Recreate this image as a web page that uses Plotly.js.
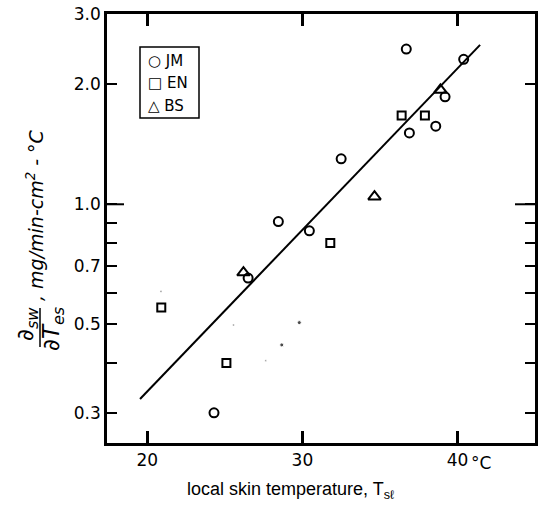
<!DOCTYPE html>
<html>
<head>
<meta charset="utf-8">
<script src="https://cdn.plot.ly/plotly-3.0.1.min.js"></script>
<style>html,body{margin:0;padding:0;background:#fff;}#chart{width:544px;height:507px;}</style>
</head>
<body>
<div id="chart"></div>
<script>
// Data
const jmX = [24.3, 26.5, 28.45, 30.45, 32.5, 36.7, 36.9, 38.6, 39.2, 40.4];
const jmY = [0.30, 0.653, 0.905, 0.858, 1.30, 2.45, 1.51, 1.57, 1.86, 2.31];
const enX = [20.9, 25.1, 31.8, 36.4, 37.9];
const enY = [0.551, 0.40, 0.80, 1.67, 1.67];
const bsX = [26.2, 34.65, 38.9];
const bsY = [0.674, 1.045, 1.935];
const fitX = [19.53, 41.46];
const fitY = [0.325, 2.51];
const speckX = [29.8, 28.67, 25.55, 27.64, 20.88];
const speckY = [0.505, 0.444, 0.498, 0.405, 0.604];
const speckSize = [4, 4, 2, 2, 2];

const xTickVals = [20, 30, 40];
const xTickText = ['20', '30', '40'];
const yTickVals = [0.3, 0.4, 0.5, 0.6, 0.7, 0.8, 0.9, 1, 2, 3];
const yTickText = ['0.3', ' ', '0.5', ' ', '0.7', ' ', ' ', '1.0', '2.0', '3.0'];
const legendNames = ['JM', 'EN', 'BS'];
const legendGlyphs = ['\u25CB', '\u25A1', '\u25B3'];

const yRange = [Math.log10(0.252), Math.log10(3)];
const F = 'DejaVu Sans, sans-serif';

const traces = [
  {x: fitX, y: fitY, mode: 'lines', line: {color: 'black', width: 2}, showlegend: false, hoverinfo: 'skip'},
  {x: jmX, y: jmY, mode: 'markers', name: 'JM', marker: {symbol: 'circle-open', size: 9, color: 'black', line: {width: 2, color: 'black'}}},
  {x: enX, y: enY, mode: 'markers', name: 'EN', marker: {symbol: 'square-open', size: 8, color: 'black', line: {width: 2, color: 'black'}}},
  {x: bsX, y: bsY, mode: 'markers', name: 'BS', marker: {symbol: 'triangle-up-open', size: 11, color: 'black', line: {width: 2, color: 'black'}}},
  {x: speckX, y: speckY, mode: 'markers', marker: {symbol: 'circle', size: speckSize, color: 'black'}, showlegend: false, hoverinfo: 'skip'}
];

// pixel -> paper helpers for decorations
const L = 107, R = 535, T = 14, B = 443;
const px = v => (v - L) / (R - L);
const py = v => (B - v) / (B - T);

const annotations = [
  {text: '<i>, mg/min-cm<sup>2</sup> - °C</i>', textangle: -90, xref: 'paper', yref: 'paper', x: px(35), y: py(215), xanchor: 'center', yanchor: 'middle', showarrow: false, font: {family: F, size: 19, color: 'black'}},
  {text: '<i>∂<sub>sw</sub></i>', textangle: -90, xref: 'paper', yref: 'paper', x: px(27), y: py(324), xanchor: 'center', yanchor: 'middle', showarrow: false, font: {family: F, size: 23, color: 'black'}},
  {text: '<i>∂T<sub>es</sub></i>', textangle: -90, xref: 'paper', yref: 'paper', x: px(53), y: py(329), xanchor: 'center', yanchor: 'middle', showarrow: false, font: {family: F, size: 23, color: 'black'}},
  {text: '°C', xref: 'paper', yref: 'paper', x: px(481), y: py(463), xanchor: 'center', yanchor: 'middle', showarrow: false, font: {family: F, size: 17, color: 'black'}},
  {text: 'local skin temperature, T<sub>sℓ</sub>', xref: 'paper', yref: 'paper', x: px(290), y: py(490), xanchor: 'center', yanchor: 'middle', showarrow: false, font: {family: 'Liberation Sans, Arial, sans-serif', size: 18, color: 'black'}}
];
const legendY = [61, 83, 106];
legendNames.forEach((n, i) => {
  annotations.push({text: legendGlyphs[i] + ' ' + n, xref: 'paper', yref: 'paper', x: px(146), y: py(legendY[i]), xanchor: 'left', yanchor: 'middle', showarrow: false, font: {family: F, size: 15, color: 'black'}});
});

const shapes = [
  {type: 'line', xref: 'paper', yref: 'paper', x0: px(40), x1: px(40), y0: py(347), y1: py(308), line: {color: 'black', width: 1.5}},
  {type: 'rect', xref: 'paper', yref: 'paper', x0: px(140), x1: px(199), y0: py(118), y1: py(47), line: {color: 'black', width: 1.5}},
  // longer tick marks at 1.0 on both sides of the frame
  {type: 'line', xref: 'paper', yref: 'y', x0: 0, x1: 17 / (R - L), y0: 1, y1: 1, line: {color: 'black', width: 2}},
  {type: 'line', xref: 'paper', yref: 'y', x0: 1 - 20 / (R - L), x1: 1, y0: 1, y1: 1, line: {color: 'black', width: 2}}
];

const layout = {
  width: 544, height: 507,
  margin: {l: L, r: 544 - R, t: T, b: 507 - B},
  showlegend: false,
  font: {family: F, color: 'black'},
  xaxis: {
    range: [17.4, 45.0], tickvals: xTickVals, ticktext: xTickText,
    ticks: 'inside', ticklen: 12, tickwidth: 2.5, tickcolor: 'black',
    showline: true, linewidth: 2.5, linecolor: 'black', mirror: 'allticks',
    showgrid: false, zeroline: false,
    tickfont: {family: F, size: 17, color: 'black'}
  },
  yaxis: {
    type: 'log', range: yRange, tickvals: yTickVals, ticktext: yTickText,
    ticks: 'inside', ticklen: 10, tickwidth: 2, tickcolor: 'black',
    showline: true, linewidth: 2.5, linecolor: 'black', mirror: 'allticks',
    showgrid: false, zeroline: false,
    tickfont: {family: F, size: 17, color: 'black'}
  },
  annotations: annotations,
  shapes: shapes
};

Plotly.newPlot('chart', traces, layout, {displayModeBar: false});
</script>
</body>
</html>
